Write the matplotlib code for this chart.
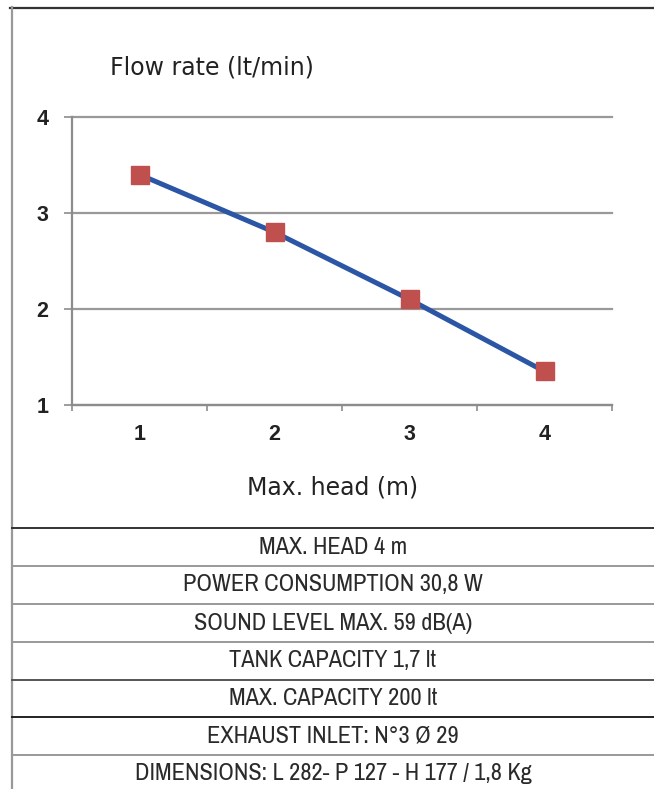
import matplotlib
matplotlib.use("Agg")
import matplotlib.pyplot as plt
from matplotlib import font_manager
from matplotlib.lines import Line2D

# data
heads = [1, 2, 3, 4]
flow = [3.40, 2.80, 2.10, 1.35]
y_ticks = [1, 2, 3, 4]
specs = ["MAX. HEAD 4 m",
         "POWER CONSUMPTION 30,8 W",
         "SOUND LEVEL MAX. 59 dB(A)",
         "TANK CAPACITY 1,7 lt",
         "MAX. CAPACITY 200 lt",
         "EXHAUST INLET: N°3 Ø 29",
         "DIMENSIONS: L 282- P 127 - H 177 / 1,8 Kg"]

# pick a narrow face for the spec table if one is installed
names = sorted({f.name for f in font_manager.fontManager.ttflist})
narrow = [n for n in names if "Narrow" in n or "Condensed" in n]
table_font = narrow[0] if narrow else "Liberation Sans"

W, H = 654, 789
fig = plt.figure(figsize=(W / 100, H / 100), dpi=100)


def fx(px):
    return px / W


def fy(py):
    return 1 - py / H


def hline(y, x0, x1, color, lw):
    fig.add_artist(Line2D([fx(x0), fx(x1)], [fy(y), fy(y)], color=color,
                          lw=lw, transform=fig.transFigure))


# outer frame + table rules
hline(7.5, 10, W, "#333333", 1.6)
fig.add_artist(Line2D([fx(12), fx(12)], [0, fy(7)], color="#999999",
                      lw=1.6, transform=fig.transFigure))
row_lines = [528, 566, 604, 642, 680, 717, 755]
row_cols = ["#333333", "#999999", "#999999", "#999999", "#555555",
            "#222222", "#999999"]
for y, c in zip(row_lines, row_cols):
    hline(y, 12, W, c, 1.4)
for i, s in enumerate(specs):
    y0 = row_lines[i]
    y1 = row_lines[i + 1] if i + 1 < len(row_lines) else 793
    t = fig.text(fx(333), fy((y0 + y1) / 2), s, ha="center", va="center",
                 fontsize=17.5, color="#2a2a2a", family=table_font)
    if not narrow:
        t.set_fontsize(14)

# chart
ax = fig.add_axes([fx(72), fy(405), fx(612) - fx(72), fy(117) - fy(405)])
ax.plot(heads, flow, color="#2b55a5", lw=3.6, marker="s", ms=13.5,
        mfc="#c0504d", mec="#c0504d", solid_capstyle="round", zorder=3)
ax.set_xlim(0.5, 4.5)
ax.set_ylim(1, 4)
ax.set_yticks(y_ticks)
ax.set_yticklabels([str(v) for v in y_ticks])
ax.set_xticks([h + 0.5 for h in [0] + heads], minor=True)
ax.set_xticks(heads)
ax.set_xticklabels([str(h) for h in heads])
for s in ["top", "right"]:
    ax.spines[s].set_visible(False)
for s in ["left", "bottom"]:
    ax.spines[s].set_color("#8c8c8c")
    ax.spines[s].set_linewidth(1.6)
ax.grid(axis="y", color="#999999", lw=1.6)
for g in ax.get_ygridlines():
    g.set_clip_on(False)
ax.set_axisbelow(True)
ax.tick_params(axis="y", length=6, width=1.2, color="#8c8c8c", pad=11,
               labelsize=15.5, labelcolor="#222222")
ax.tick_params(axis="x", which="major", length=0, pad=14, labelsize=15.5,
               labelcolor="#222222")
ax.tick_params(axis="x", which="minor", length=4, width=1.2,
               color="#8c8c8c")
for t in ax.get_xticklabels() + ax.get_yticklabels():
    t.set_fontweight("bold")
    t.set_family("Liberation Sans")

fig.text(fx(110), fy(67), "Flow rate (lt/min)", ha="left", va="center",
         fontsize=17, color="#222222", family="DejaVu Sans")
fig.text(fx(333), fy(487), "Max. head (m)", ha="center", va="center",
         fontsize=17, color="#222222", family="DejaVu Sans")

fig.savefig("out.png", dpi=100)
